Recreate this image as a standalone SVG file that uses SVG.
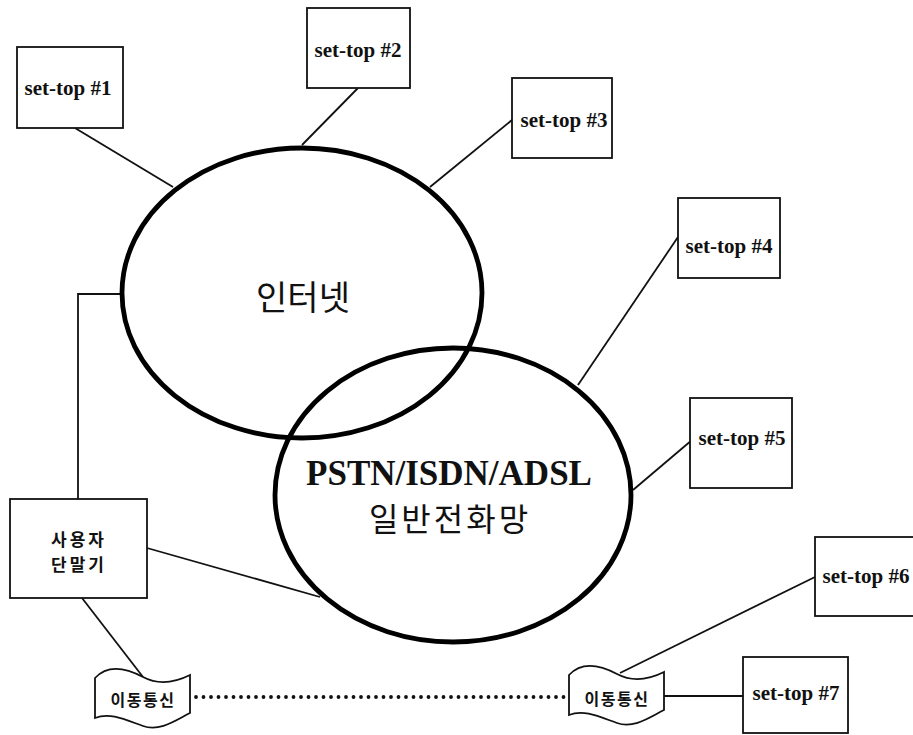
<svg xmlns="http://www.w3.org/2000/svg" width="913" height="735" viewBox="0 0 913 735">
  <style>
    .box { fill: #fff; stroke: #111; stroke-width: 1.8; }
    .net { fill: none; stroke: #000; stroke-width: 4.8; }
    .wire { fill: none; stroke: #111; stroke-width: 1.8; }
    .dots { fill: none; stroke: #111; stroke-width: 3.8; stroke-linecap: round; stroke-dasharray: 0 7.5; }
    .st { font-family: "Liberation Serif", "Times New Roman", serif; font-weight: bold; font-size: 21px; fill: #111; text-anchor: middle; }
    .ko { font-family: "Noto Sans CJK KR", "Noto Sans", sans-serif; fill: #111; text-anchor: middle; }
  </style>
  <defs>
    <!-- wavy tape shape for the mobile-network nodes -->
    <path id="tape" d="M95,678 C108,664 126,668 143,677 C160,686 176,682 190,675 L190,713 C176,720 160,732 143,726 C126,720 110,712 95,718 Z"/>
  </defs>
  <rect width="913" height="735" fill="#fff"/>

  <g id="connectors">
    <line class="wire" x1="75" y1="128" x2="173" y2="187"/>
    <line class="wire" x1="358" y1="88" x2="302" y2="145"/>
    <line class="wire" x1="512" y1="120" x2="430" y2="187"/>
    <line class="wire" x1="678" y1="237" x2="578" y2="385"/>
    <line class="wire" x1="692" y1="440" x2="633" y2="490"/>
    <polyline class="wire" points="78,499 78,294 122,294"/>
    <line class="wire" x1="147" y1="548" x2="320" y2="597"/>
    <line class="wire" x1="82" y1="598" x2="143" y2="677"/>
    <line class="wire" x1="620" y1="673" x2="815" y2="577"/>
    <line class="wire" x1="663" y1="696" x2="743" y2="696"/>
    <line class="dots" x1="196" y1="697" x2="566" y2="697"/>
  </g>

  <g id="internet">
    <ellipse class="net" cx="302" cy="293" rx="180" ry="145"/>
    <text class="ko" x="303" y="310" font-size="34">인터넷</text>
  </g>

  <g id="pstn">
    <ellipse class="net" cx="453" cy="495" rx="178" ry="147"/>
    <text class="st" x="449" y="485" style="font-size:35px">PSTN/ISDN/ADSL</text>
    <text class="ko" x="450" y="531" font-size="32" letter-spacing="3">일반전화망</text>
  </g>

  <g id="settop1">
    <rect class="box" x="17" y="47" width="106" height="81"/>
    <text class="st" x="68" y="95">set-top #1</text>
  </g>
  <g id="settop2">
    <rect class="box" x="307" y="8" width="103" height="80"/>
    <text class="st" x="358" y="57">set-top #2</text>
  </g>
  <g id="settop3">
    <rect class="box" x="512" y="78" width="100" height="80"/>
    <text class="st" x="564" y="127">set-top #3</text>
  </g>
  <g id="settop4">
    <rect class="box" x="678" y="198" width="102" height="80"/>
    <text class="st" x="729" y="253">set-top #4</text>
  </g>
  <g id="settop5">
    <rect class="box" x="690" y="398" width="102" height="90"/>
    <text class="st" x="742" y="445">set-top #5</text>
  </g>
  <g id="settop6">
    <rect class="box" x="815" y="537" width="110" height="79"/>
    <text class="st" x="866" y="583">set-top #6</text>
  </g>
  <g id="settop7">
    <rect class="box" x="743" y="657" width="105" height="76"/>
    <text class="st" x="796" y="700">set-top #7</text>
  </g>

  <g id="user-terminal">
    <rect class="box" x="10" y="499" width="137" height="99"/>
    <text class="ko" x="79" y="546" font-size="17" font-weight="bold" letter-spacing="3">사용자</text>
    <text class="ko" x="79" y="571" font-size="17" font-weight="bold" letter-spacing="3">단말기</text>
  </g>

  <g id="mobile1">
    <use href="#tape" class="box"/>
    <text class="ko" x="143" y="706" font-size="16" font-weight="bold" letter-spacing="1.5">이동통신</text>
  </g>
  <g id="mobile2">
    <use href="#tape" class="box" transform="translate(474,-3)"/>
    <text class="ko" x="617" y="705" font-size="16" font-weight="bold" letter-spacing="1.5">이동통신</text>
  </g>
</svg>
